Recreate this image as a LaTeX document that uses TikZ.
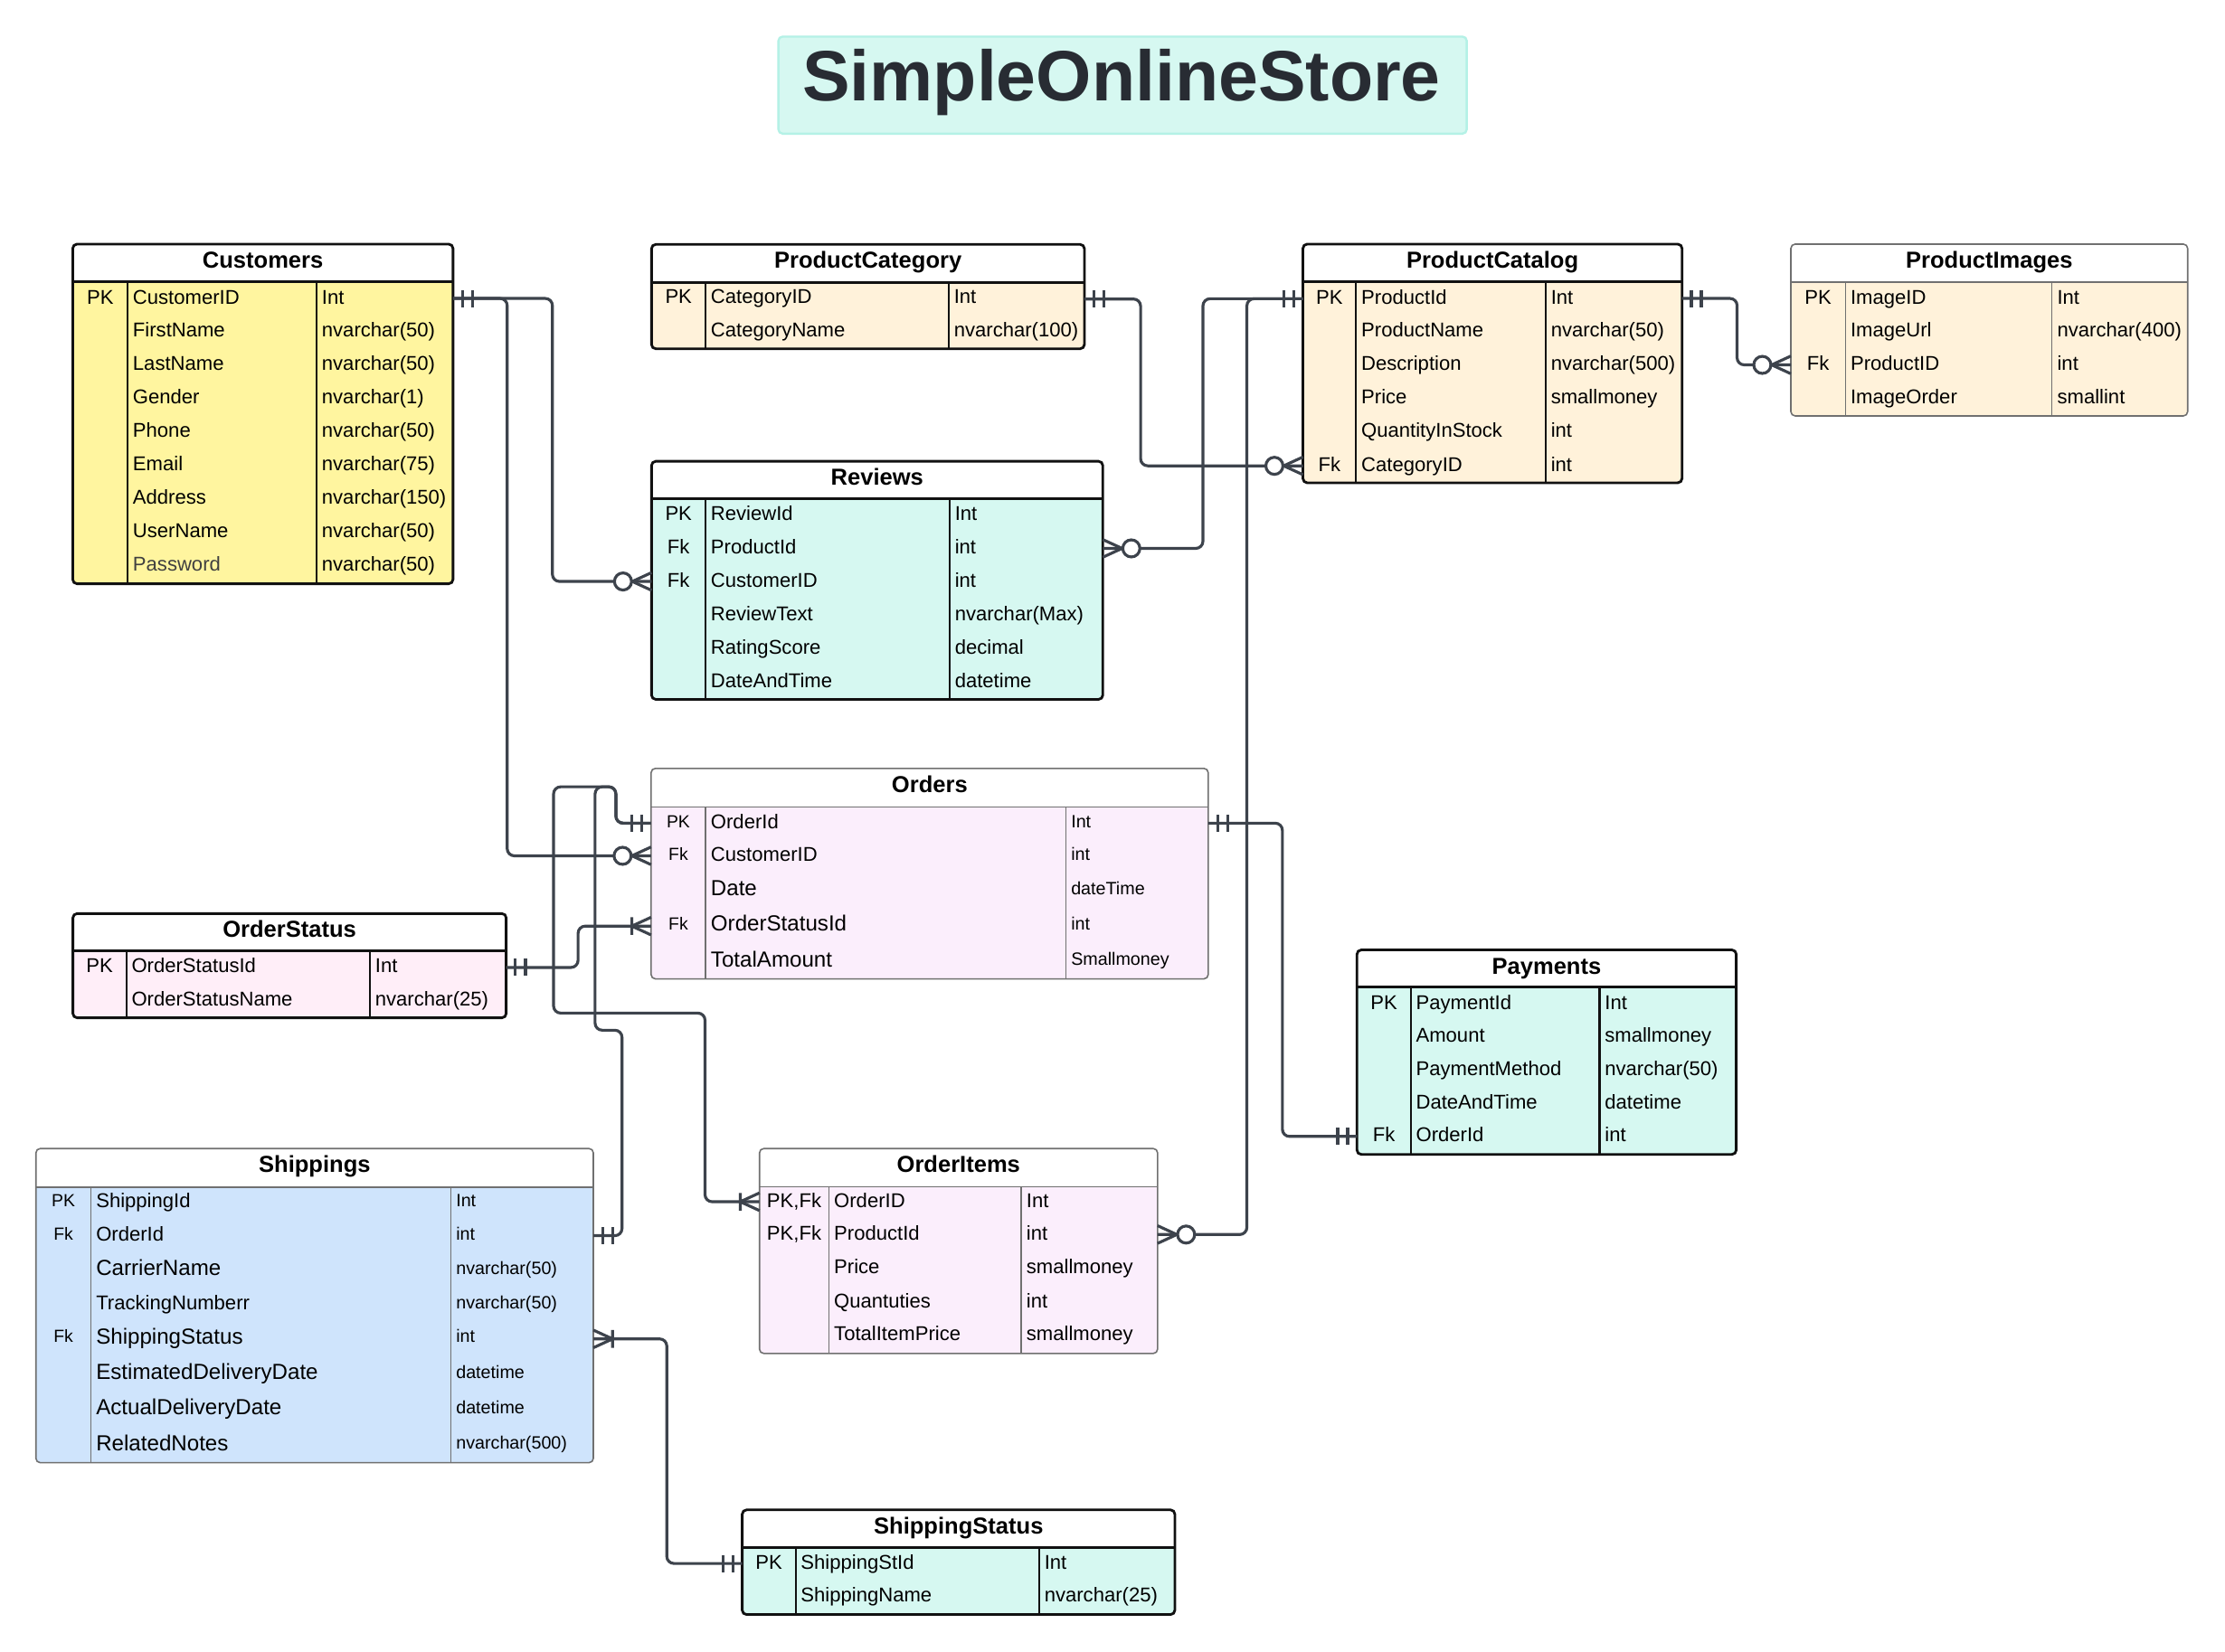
\documentclass[tikz,border=0pt]{standalone}
\usepackage{fontspec}
\setmainfont{Liberation Sans}
\definecolor{connc}{HTML}{3D434C}
\definecolor{cyel}{HTML}{FFF59F}
\definecolor{ccream}{HTML}{FFF2DA}
\definecolor{ccyan}{HTML}{D6F8F1}
\definecolor{clav}{HTML}{FBEEFC}
\definecolor{cpink}{HTML}{FFEEF8}
\definecolor{cblue}{HTML}{CFE4FC}
\definecolor{ttlborder}{HTML}{B4F1E6}
\definecolor{ttltext}{HTML}{282C33}
\definecolor{thinb}{HTML}{707070}
\definecolor{thickb}{HTML}{111111}
\definecolor{txtgray}{HTML}{404040}
\tikzset{
  conn/.style={draw=connc, line width=2pt, rounded corners=5pt},
  mk/.style={draw=connc, line width=2pt},
  cellk/.style={inner sep=0pt, anchor=base},
  celln/.style={inner sep=0pt, anchor=base west},
}
\newcommand\settable[7]{\def\Tx{#1}\def\Ty{#2}\def\Tr{#3}\def\Tb{#4}\def\Th{#5}\def\Tc{#6}\def\Td{#7}}
\newcommand\drawtable[6]{%
  \fill[#2, rounded corners=3pt] (\Tx,\Ty) rectangle (\Tr,\Tb);
  \fill[white, rounded corners=3pt] (\Tx,\Th) -- (\Tx,\Ty) -- (\Tr,\Ty) -- (\Tr,\Th);
  \draw[draw=#3, line width=#5] (\Tc,\Th) -- (\Tc,\Tb) (\Td,\Th) -- (\Td,\Tb);
  \draw[draw=#3, line width=#4] (\Tx,\Th) -- (\Tr,\Th);
  \node[draw=#3, line width=#4, rounded corners=3pt, inner sep=0pt, outer sep=0pt,
        anchor=north west, minimum width={(\Tr-\Tx)*1pt}, minimum height={(\Tb-\Ty)*1pt}] (#1) at (\Tx,\Ty) {};
  \node[font=\bfseries\fontsize{16.2}{18}\selectfont, anchor=base, inner sep=0pt] (#1-title) at ({(\Tx+\Tr)/2},{\Ty+16.9}) {#6};
}
\newcommand\rv[6]{%
  \node[celln, font=\fontsize{#4}{#4}\selectfont] (#1n) at ({\Tc+3.5},{#2+0.358*#4}) {#3};
  \node[celln, font=\fontsize{#6}{#6}\selectfont] (#1t) at ({\Td+3.5},{#2+0.358*#6}) {#5};}
\newcommand\rk[8]{%
  \node[cellk, font=\fontsize{#4}{#4}\selectfont] (#1k) at ({(\Tx+\Tc)/2},{#2+0.358*#4}) {#3};
  \rv{#1}{#2}{#5}{#6}{#7}{#8}}
\newcommand\mkone[2]{\begin{scope}[shift={(#1)}, xscale=#2]
  \draw[mk] (6.5,-6) -- (6.5,6) (13.5,-6) -- (13.5,6);\end{scope}}
\newcommand\mkzm[2]{\begin{scope}[shift={(#1)}, xscale=#2]
  \draw[mk] (0,-6.2) -- (13.5,0) -- (0,6.2); \draw[mk, fill=white] (20,0) circle (6);\end{scope}}
\newcommand\mkom[2]{\begin{scope}[shift={(#1)}, xscale=#2]
  \draw[mk] (0,-6.2) -- (13.5,0) -- (0,6.2) (13.5,-6.2) -- (13.5,6.2);\end{scope}}
\begin{document}
\begin{tikzpicture}[x=1pt, y=-1pt]
\fill[white] (0,0) rectangle (1560,1158);
\useasboundingbox (0,0) rectangle (1560,1158);

% title
\node[fill=ccyan, draw=ttlborder, line width=1.5pt, rounded corners=3pt, minimum width=482.6pt, minimum height=68.1pt, inner sep=0pt, anchor=north west] (titlebox) at (545,24.9) {};
\node[font=\bfseries\fontsize{50}{56}\selectfont, text=ttltext, anchor=base, inner sep=0pt] (title) at (786.3,70.8) {SimpleOnlineStore};

% Customers
\settable{51}{171.2}{317.6}{409.4}{197.6}{89.5}{222}
\drawtable{cust}{cyel}{thickb}{1.8pt}{1.4pt}{Customers}
\rk{cust1}{208.2}{PK}{14}{CustomerID}{14}{Int}{14}
\rv{cust2}{231.5}{FirstName}{14}{nvarchar(50)}{14}
\rv{cust3}{254.7}{LastName}{14}{nvarchar(50)}{14}
\rv{cust4}{278.0}{Gender}{14}{nvarchar(1)}{14}
\rv{cust5}{301.7}{Phone}{14}{nvarchar(50)}{14}
\rv{cust6}{325.0}{Email}{14}{nvarchar(75)}{14}
\rv{cust7}{348.4}{Address}{14}{nvarchar(150)}{14}
\rv{cust8}{372.1}{UserName}{14}{nvarchar(50)}{14}
\rv{cust9}{395.4}{\color{txtgray}Password}{14}{nvarchar(50)}{14}

% ProductCategory
\settable{456.8}{171.4}{760.3}{244.6}{198.1}{494.7}{665.2}
\drawtable{pcat}{ccream}{thickb}{1.8pt}{1.4pt}{ProductCategory}
\rk{pcat1}{207.9}{PK}{14}{CategoryID}{14}{Int}{14}
\rv{pcat2}{231.2}{CategoryName}{14}{nvarchar(100)}{14}

% ProductCatalog
\settable{913.5}{171.2}{1179.3}{338.6}{197.6}{950.8}{1083.7}
\drawtable{pc}{ccream}{thickb}{1.8pt}{1.4pt}{ProductCatalog}
\rk{pc1}{208.2}{PK}{14}{ProductId}{14}{Int}{14}
\rv{pc2}{231.4}{ProductName}{14}{nvarchar(50)}{14}
\rv{pc3}{254.7}{Description}{14}{nvarchar(500)}{14}
\rv{pc4}{278.4}{Price}{14}{smallmoney}{14}
\rv{pc5}{301.6}{QuantityInStock}{14}{int}{14}
\rk{pc6}{325.5}{Fk}{14}{CategoryID}{14}{int}{14}

% ProductImages
\settable{1255.6}{171.2}{1533.8}{291.7}{198}{1293.8}{1438.7}
\drawtable{pi}{ccream}{thinb}{1pt}{0.9pt}{ProductImages}
\rk{pi1}{208.2}{PK}{14}{ImageID}{14}{Int}{14}
\rv{pi2}{231.4}{ImageUrl}{14}{nvarchar(400)}{14}
\rk{pi3}{254.7}{Fk}{14}{ProductID}{14}{int}{14}
\rv{pi4}{278.4}{ImageOrder}{14}{smallint}{14}

% Reviews
\settable{456.8}{323.5}{773.2}{490.5}{349.8}{494.7}{665.8}
\drawtable{rev}{ccyan}{thickb}{1.8pt}{1.4pt}{Reviews}
\rk{rev1}{360.2}{PK}{14}{ReviewId}{14}{Int}{14}
\rk{rev2}{383.6}{Fk}{14}{ProductId}{14}{int}{14}
\rk{rev3}{406.9}{Fk}{14}{CustomerID}{14}{int}{14}
\rv{rev4}{430.3}{ReviewText}{14}{nvarchar(Max)}{14}
\rv{rev5}{453.9}{RatingScore}{14}{decimal}{14}
\rv{rev6}{477.0}{DateAndTime}{14}{datetime}{14}

% Orders
\settable{456.5}{538.9}{847.1}{686.5}{565.9}{494.7}{747.3}
\drawtable{ord}{clav}{thinb}{1pt}{0.9pt}{Orders}
\rk{ord1}{576.1}{PK}{12.3}{OrderId}{14}{Int}{12.5}
\rk{ord2}{599.1}{Fk}{12.3}{CustomerID}{14}{int}{12.5}
\rv{ord3}{622.9}{Date}{15.3}{dateTime}{12.5}
\rk{ord4}{647.6}{Fk}{12.3}{OrderStatusId}{15.3}{int}{12.5}
\rv{ord5}{672.6}{TotalAmount}{15.3}{Smallmoney}{12.5}

% OrderStatus
\settable{51.1}{640.7}{354.9}{713.8}{667}{88.6}{259.4}
\drawtable{os}{cpink}{thickb}{1.8pt}{1.4pt}{OrderStatus}
\rk{os1}{677}{PK}{14}{OrderStatusId}{14}{Int}{14}
\rv{os2}{700.4}{OrderStatusName}{14}{nvarchar(25)}{14}

% Payments
\settable{951.4}{666.2}{1217.3}{809.6}{692.2}{989.1}{1121.5}
\drawtable{pay}{ccyan}{thickb}{1.8pt}{1.4pt}{Payments}
\rk{pay1}{702.8}{PK}{14}{PaymentId}{14}{Int}{14}
\rv{pay2}{726.1}{Amount}{14}{smallmoney}{14}
\rv{pay3}{749.3}{PaymentMethod}{14}{nvarchar(50)}{14}
\rv{pay4}{772.6}{DateAndTime}{14}{datetime}{14}
\rk{pay5}{795.8}{Fk}{14}{OrderId}{14}{int}{14}

% Shippings
\settable{25.2}{805.5}{416}{1025.8}{832.6}{63.7}{316.1}
\drawtable{sh}{cblue}{thinb}{1pt}{0.9pt}{Shippings}
\rk{sh1}{841.8}{PK}{12.3}{ShippingId}{14}{Int}{12.5}
\rk{sh2}{865.5}{Fk}{12.3}{OrderId}{14}{int}{12.5}
\rv{sh3}{889.1}{CarrierName}{15.3}{nvarchar(50)}{12.5}
\rv{sh4}{913.3}{TrackingNumberr}{14}{nvarchar(50)}{12.5}
\rk{sh5}{937.2}{Fk}{12.3}{ShippingStatus}{15.3}{int}{12.5}
\rv{sh6}{962.2}{EstimatedDeliveryDate}{15.3}{datetime}{12.5}
\rv{sh7}{986.9}{ActualDeliveryDate}{15.3}{datetime}{12.5}
\rv{sh8}{1011.9}{RelatedNotes}{15.3}{nvarchar(500)}{12.5}

% OrderItems
\settable{532.5}{805.5}{811.6}{949.2}{832.3}{581.1}{716}
\drawtable{oi}{clav}{thinb}{1pt}{0.9pt}{OrderItems}
\rk{oi1}{841.6}{PK,Fk}{14}{OrderID}{14}{Int}{14}
\rk{oi2}{864.9}{PK,Fk}{14}{ProductId}{14}{int}{14}
\rv{oi3}{888.2}{Price}{14}{smallmoney}{14}
\rv{oi4}{912.0}{Quantuties}{14}{int}{14}
\rv{oi5}{935.2}{TotalItemPrice}{14}{smallmoney}{14}

% ShippingStatus
\settable{520.4}{1058.9}{823.7}{1132.3}{1085.5}{557.8}{728.6}
\drawtable{ss}{ccyan}{thickb}{1.8pt}{1.4pt}{ShippingStatus}
\rk{ss1}{1095.5}{PK}{14}{ShippingStId}{14}{Int}{14}
\rv{ss2}{1118.3}{ShippingName}{14}{nvarchar(25)}{14}

% connector end points
\coordinate (custR1) at (317.6,209.3);
\coordinate (revL3) at (456.8,407.8);
\coordinate (ordL2) at (456.5,600.2);
\coordinate (pcatR1) at (760.3,209.7);
\coordinate (pcL6) at (913.5,326.7);
\coordinate (revR2) at (773.2,384.6);
\coordinate (pcL1) at (913.5,209.5);
\coordinate (oiR2) at (811.6,865.8);
\coordinate (pcR1) at (1179.3,209.3);
\coordinate (piL3) at (1255.6,255.9);
\coordinate (ordR1) at (847.1,577.3);
\coordinate (payL5) at (951.4,797);
\coordinate (ordL1) at (456.5,577.3);
\coordinate (oiL1) at (532.5,842.8);
\coordinate (shR2) at (416,866.6);
\coordinate (osR1) at (354.9,678.5);
\coordinate (ordL4) at (456.5,649.5);
\coordinate (shR5) at (416,939);
\coordinate (ssL1) at (520.4,1096.5);

% connectors
\draw[conn] (custR1) -| (387.3,407.8) -- (revL3);
\draw[conn] (custR1) -| (355.6,600.2) -- (ordL2);
\draw[conn] (pcatR1) -| (799.7,326.7) -- (pcL6);
\draw[conn] (revR2) -| (843.4,209.5) -- (pcL1);
\draw[conn] (pcL1) -| (874.2,865.8) -- (oiR2);
\draw[conn] (pcR1) -| (1217.9,255.9) -- (piL3);
\draw[conn] (ordR1) -| (899.1,797) -- (payL5);
\draw[conn] (ordL1) -| (431.8,551.8) -| (388.1,710.5) -| (494.3,842.8) -- (oiL1);
\draw[conn] (ordL1) -| (431.8,551.8) -| (417.2,722.5) -| (436.1,866.6) -- (shR2);
\draw[conn] (osR1) -| (405.3,649.5) -- (ordL4);
\draw[conn] (shR5) -| (467.5,1096.5) -- (ssL1);

% end markers
\mkone{custR1}{1}
\mkzm{revL3}{-1}
\mkzm{ordL2}{-1}
\mkone{pcatR1}{1}
\mkzm{pcL6}{-1}
\mkzm{revR2}{1}
\mkone{pcL1}{-1}
\mkzm{oiR2}{1}
\mkone{pcR1}{1}
\mkzm{piL3}{-1}
\mkone{ordR1}{1}
\mkone{payL5}{-1}
\mkone{ordL1}{-1}
\mkom{oiL1}{-1}
\mkone{shR2}{1}
\mkone{osR1}{1}
\mkom{ordL4}{-1}
\mkom{shR5}{1}
\mkone{ssL1}{-1}
\end{tikzpicture}
\end{document}
